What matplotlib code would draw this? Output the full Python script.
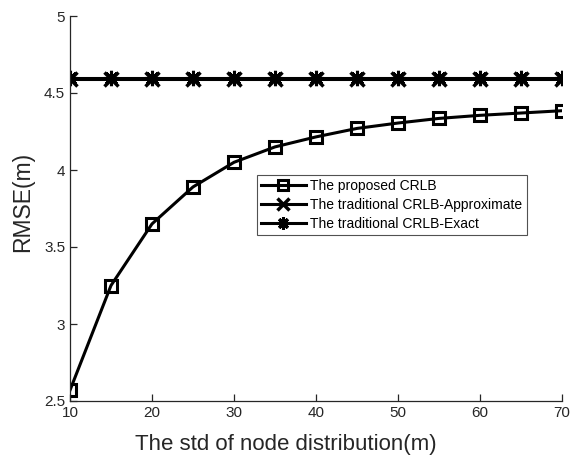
import matplotlib
matplotlib.use("Agg")
import matplotlib.pyplot as plt

plt.rcParams['font.family'] = ['Liberation Sans', 'DejaVu Sans']

std_values = [10, 15, 20, 25, 30, 35, 40, 45, 50, 55, 60, 65, 70]
proposed = [2.57, 3.25, 3.65, 3.89, 4.05, 4.15, 4.215, 4.27, 4.305, 4.335, 4.355, 4.37, 4.385]
trad_approx = [4.59] * 13
trad_exact = [4.595] * 13

x_ticks = [10, 20, 30, 40, 50, 60, 70]
y_ticks = [2.5, 3, 3.5, 4, 4.5, 5]

fig = plt.figure(figsize=(5.77, 4.58), dpi=100)
ax = fig.add_axes([70/577, 1-401/458, (562-70)/577, (401-16)/458])

ax.plot(std_values, proposed, color='black', lw=2.2, marker='s', ms=9,
        mfc='none', mec='black', mew=2.2, label='The proposed CRLB')
ax.plot(std_values, trad_approx, color='black', lw=2.2, marker='x', ms=10,
        mew=2.5, label='The traditional CRLB-Approximate')
ax.plot(std_values, trad_exact, color='black', lw=2.2, marker=(8, 2, 0), ms=11,
        mew=2.2, label='The traditional CRLB-Exact')

ax.set_xlim(10, 70)
ax.set_ylim(2.5, 5)
ax.set_xticks(x_ticks)
ax.set_yticks(y_ticks)
ax.set_xticklabels([str(v) for v in x_ticks])
ax.set_yticklabels(['2.5', '3', '3.5', '4', '4.5', '5'])
ax.spines['top'].set_visible(False)
ax.spines['right'].set_visible(False)
for s in ['left', 'bottom']:
    ax.spines[s].set_color('#262626')
    ax.spines[s].set_linewidth(0.9)
ax.tick_params(direction='in', length=5, width=0.9, colors='#262626', labelsize=11)
ax.set_xlabel('The std of node distribution(m)', fontsize=16, color='#262626')
ax.set_ylabel('RMSE(m)', fontsize=16.5, color='#262626')
ax.xaxis.set_label_coords((286-70)/492, -0.085)
ax.yaxis.set_label_coords(-0.072, (401-202)/385)

leg = ax.legend(loc='upper left', bbox_to_anchor=((257-70)/492, (401-175)/385),
                fontsize=10, frameon=True, fancybox=False, edgecolor='#262626',
                borderpad=0.3, labelspacing=0.35, handlelength=3.2, handletextpad=0.35,
                borderaxespad=0, markerscale=0.8)
leg.get_frame().set_linewidth(0.8)

fig.savefig('out.png', dpi=100)
